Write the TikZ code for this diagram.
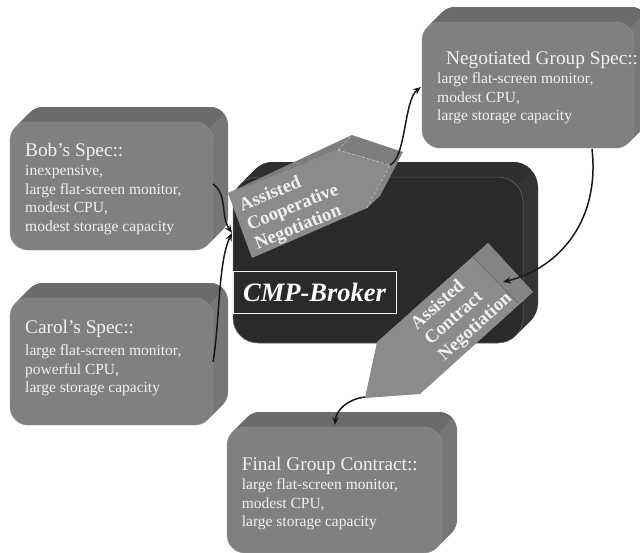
\documentclass[tikz,border=0pt]{standalone}
\usepackage{fontspec}
\setmainfont{Liberation Serif}
\usetikzlibrary{arrows.meta}
\definecolor{boxfront}{HTML}{808080}
\definecolor{boxtop}{HTML}{6B6B6B}
\definecolor{boxside}{HTML}{767676}
\definecolor{darkfront}{HTML}{2A2A2A}
\definecolor{darktop}{HTML}{2F2F2F}
\definecolor{darkside}{HTML}{343434}
\definecolor{tagfront}{HTML}{8B8B8B}
\definecolor{tagtop}{HTML}{7E7E7E}
\definecolor{tagside}{HTML}{858585}
\definecolor{textwhite}{HTML}{F2F2F2}

% extrusion behind a rounded front face: x1 y1 x2 y2 side top radius
\newcommand\extrude[7]{%
  \foreach \i in {1,...,15}{\fill[#5, rounded corners=#7] (#1+\i,#2-\i) rectangle (#3+\i,#4-\i);}
  \begin{scope}
    \clip (#1-25,#2+6) -- (#1-25,#2-25) -- (#3+26,#2-25) -- (#3-5,#2+6) -- cycle;
    \foreach \i in {1,...,15}{\fill[#6, rounded corners=#7] (#1+\i,#2-\i) rectangle (#3+\i,#4-\i);}
  \end{scope}
}

\tikzset{
  specbox/.style={rounded corners=18pt, fill=boxfront, draw=boxfront!85!white, line width=0.4pt, inner sep=0pt, outer sep=0pt},
  spectitle/.style={font=\fontsize{19.3}{22}\selectfont, text=textwhite, anchor=base west, inner sep=0pt},
  specbody/.style={font=\fontsize{15.5}{18.5}\selectfont, text=textwhite, align=left, anchor=north west, inner sep=0pt},
  flow/.style={line width=1.5pt, draw=black!90, -{Stealth[length=8pt,width=6.5pt]}},
  tagtext/.style={font=\bfseries\fontsize{18.5}{20.5}\selectfont, text=textwhite, align=left, inner sep=0pt},
  facedash/.style={draw=white!75!gray, densely dashed, line width=0.35pt},
}

\begin{document}
\begin{tikzpicture}[x=1pt,y=-1pt]
\useasboundingbox (0,0) rectangle (640,552);

% CMP-Broker block
\extrude{233}{177}{523}{343}{darkside}{darktop}{25pt}
\node[rounded corners=25pt, fill=darkfront, draw=black!60, line width=0.5pt, inner sep=0pt, outer sep=0pt,
      minimum width=290pt, minimum height=166pt] (broker) at (378,260) {};
\node[draw=textwhite, line width=0.8pt, fill=darkfront, minimum width=163pt, minimum height=42pt, inner sep=0pt,
      text=white, font=\bfseries\itshape\fontsize{26.5}{28}\selectfont] (cmp) at (314.5,292) {CMP-Broker};

% Bob
\extrude{10}{122}{213}{250}{boxside}{boxtop}{18pt}
\node[specbox, minimum width=203pt, minimum height=128pt] (bob) at (111.5,186) {};
\node[spectitle] (bobtitle) at (25,156) {Bob’s Spec::};
\node[specbody] (bobbody) at (25,165.4) {inexpensive,\\large flat-screen monitor,\\modest CPU,\\modest storage capacity};

% Carol
\extrude{10}{298}{213}{425}{boxside}{boxtop}{18pt}
\node[specbox, minimum width=203pt, minimum height=127pt] (carol) at (111.5,361.5) {};
\node[spectitle] (caroltitle) at (25,333) {Carol’s Spec::};
\node[specbody] (carolbody) at (25,344.4) {large flat-screen monitor,\\powerful CPU,\\large storage capacity};

% Negotiated group spec
\extrude{422}{22}{634}{148}{boxside}{boxtop}{18pt}
\node[specbox, minimum width=212pt, minimum height=126pt] (neg) at (528,85) {};
\node[spectitle] (negtitle) at (446,64) {Negotiated Group Spec::};
\node[specbody] (negbody) at (437,72.7) {large flat-screen monitor,\\modest CPU,\\large storage capacity};

% Final group contract
\extrude{227}{427}{442}{553}{boxside}{boxtop}{18pt}
\node[specbox, minimum width=215pt, minimum height=126pt] (final) at (334.5,490) {};
\node[spectitle] (finaltitle) at (241.7,470) {Final Group Contract::};
\node[specbody] (finalbody) at (241.7,478.7) {large flat-screen monitor,\\modest CPU,\\large storage capacity};

% Assisted Cooperative Negotiation tag
\fill[tagfront] (228,193) -- (338,150) -- (390,165) -- (367,208) -- (252,258) -- cycle;
\fill[tagtop] (228,193) -- (352,135) -- (403,152) -- (390,165) -- (338,150) -- cycle;
\fill[tagside] (390,165) -- (403,152) -- (380,196) -- (367,208) -- cycle;
\draw[facedash] (338,150) -- (352,135) (338,150) -- (390,165) -- (367,208);
\node[tagtext, rotate=22] (cooptext) at (293,208) {Assisted\\Cooperative\\Negotiation};

% Assisted Contract Negotiation tag
\fill[tagfront] (488,243) -- (533,292) -- (420,394) -- (365,398) -- (377,342) -- cycle;
\fill[tagfront!95!black] (488,243) -- (533,292) -- (518,303) -- (473,257) -- cycle;
\draw[gray!70!black, line width=0.4pt] (473,257) -- (518,303);
\node[tagtext, rotate=42] (contracttext) at (462,312) {Assisted\\Contract\\Negotiation};

% connector ends
\coordinate (bobout) at (213,184);
\coordinate (carolout) at (213,362);
\coordinate (coopin) at (232,233);
\coordinate (coopout) at (390,165);
\coordinate (negin) at (421,87);
\coordinate (negout) at (592,149);
\coordinate (contractin) at (503,282);
\coordinate (contractout) at (365,397);
\coordinate (finalin) at (335,425);

\draw[flow] (bobout) .. controls (228,195) and (220,215) .. (coopin);
\draw[flow] (carolout) .. controls (220,320) and (218,262) .. (coopin);
\draw[flow] (coopout) .. controls (406,158) and (404,100) .. (negin);
\draw[flow] (negout) .. controls (600,220) and (560,268) .. (contractin);
\draw[flow] (contractout) .. controls (348,399) and (336,410) .. (finalin);
\end{tikzpicture}
\end{document}
